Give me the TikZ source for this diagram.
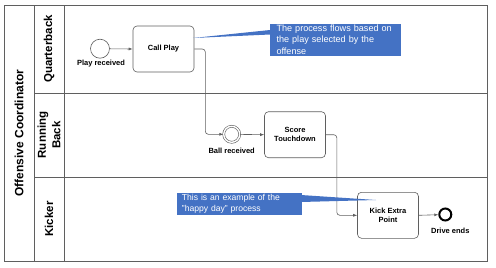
\documentclass[tikz,border=0pt]{standalone}
\usepackage{fontspec}
\setmainfont{Liberation Sans}
\usetikzlibrary{arrows.meta}
\definecolor{callblue}{RGB}{68,114,196}
\definecolor{linegray}{RGB}{95,95,95}
\tikzset{
  poolline/.style={draw=linegray, line width=0.8pt},
  task/.style={draw=linegray, line width=0.6pt, rounded corners=4pt, fill=white, minimum width=61pt, minimum height=46pt, inner sep=0pt, align=center, font=\fontsize{7.5}{9.3}\selectfont\bfseries},
  lbl/.style={inner sep=0pt, font=\fontsize{7.5}{9}\selectfont\bfseries},
  startev/.style={circle, draw=linegray, line width=0.6pt, fill=white, minimum size=19pt, inner sep=0pt},
  interev/.style={circle, draw=linegray, line width=0.6pt, double=white, double distance=1.4pt, minimum size=16pt, inner sep=0pt},
  endev/.style={circle, draw=black, line width=2pt, fill=white, minimum size=12pt, inner sep=0pt},
  flow/.style={draw=linegray, line width=0.6pt, rounded corners=3pt, -{Latex[length=4pt,width=3pt]}},
  callout/.style={fill=callblue, text=white, inner sep=0pt, align=left},
  lanelbl/.style={rotate=90, inner sep=0pt, align=center, font=\fontsize{11.5}{14.5}\selectfont\bfseries},
}
\begin{document}
\begin{tikzpicture}[x=1pt,y=-1pt]
\useasboundingbox (0,0) rectangle (496,268);
% pool and lanes
\draw[poolline] (4,5) rectangle (487,261);
\draw[poolline] (34,5) -- (34,261);
\draw[poolline] (64,5) -- (64,261);
\draw[poolline] (34,93) -- (487,93);
\draw[poolline] (34,177) -- (487,177);
\node[lanelbl, font=\fontsize{12}{14}\selectfont\bfseries] (pool) at (19,133) {Offensive Coordinator};
\node[lanelbl] (qb) at (49,49) {Quarterback};
\node[lanelbl] (rb) at (49,135) {Running\\Back};
\node[lanelbl] (kk) at (49,219) {Kicker};
% events and tasks
\node[startev] (start) at (100,48.7) {};
\node[lbl] (startlbl) at (101,64) {Play received};
\node[task] (call) at (163.5,49) {Call Play};
\node[interev] (ball) at (231.7,134.3) {};
\node[lbl] (balllbl) at (231.7,150.7) {Ball received};
\node[task] (score) at (295,134.7) {Score\\Touchdown};
\node[task] (kick) at (388,215.3) {Kick Extra\\Point};
\node[endev] (end) at (445.3,214.5) {};
\node[lbl] (endlbl) at (450.3,230.7) {Drive ends};
% flows
\draw[flow] (start) -- (call.west);
\draw[flow] (call.east) -- ++(11,0) |- (ball.west);
\draw[flow] (ball) -- (score.west);
\draw[flow] (score.east) -- ++(11,0) |- (kick.west);
\draw[flow] (kick.east) -- (end);
% callouts
\node[callout, anchor=north west, minimum width=131pt, minimum height=32pt, text width=117pt, font=\fontsize{9.1}{11.5}\selectfont] (c1) at (269.3,23.3) {The process flows based on\\the play selected by the\\offense};
\coordinate (tip1) at (193,38);
\fill[callblue] (tip1) -- (270,30) -- (270,34.5) -- cycle;
\node[callout, anchor=north west, minimum width=125pt, minimum height=22.3pt, text width=115pt, font=\fontsize{8.6}{11}\selectfont] (c2) at (176.7,192.7) {This is an example of the\\"happy day" process};
\coordinate (tip2) at (376,200);
\fill[callblue] (tip2) -- (301,195) -- (301,202) -- cycle;
\end{tikzpicture}
\end{document}
